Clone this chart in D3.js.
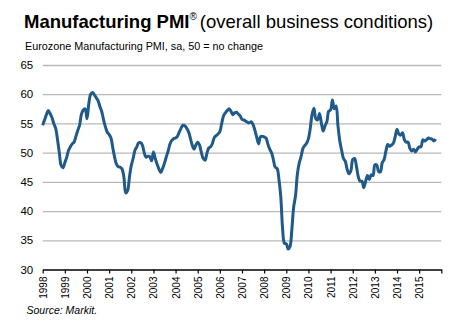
<!DOCTYPE html>
<html>
<head>
<meta charset="utf-8">
<script src="https://cdn.jsdelivr.net/npm/d3@7"></script>
<style>
  body { margin: 0; background: #fff; }
  svg { display: block; font-family: "Liberation Sans", Arial, sans-serif; }
</style>
</head>
<body>
<svg id="chart" width="464" height="324"></svg>
<script>
// Eurozone manufacturing PMI, monthly, Jan 1998 .. Oct 2015
var startYear = 1998;
var pmi1998 = [54.7, 55.6, 56.5, 57.2, 56.7, 56.0, 55.0, 54.2, 52.3, 50.0, 47.8, 47.4];
var pmi1999 = [48.3, 49.2, 50.4, 51.0, 51.5, 51.8, 52.8, 53.8, 54.7, 56.6, 57.3, 57.5];
var pmi2000 = [55.8, 58.4, 60.0, 60.3, 59.9, 59.4, 58.9, 57.9, 57.0, 55.6, 54.4, 53.5];
var pmi2001 = [53.1, 52.5, 50.8, 49.2, 48.0, 47.6, 47.5, 47.2, 45.8, 43.1, 43.5, 45.8];
var pmi2002 = [47.8, 49.0, 50.4, 51.0, 51.7, 51.7, 51.3, 50.0, 49.2, 49.4, 49.3, 48.6];
var pmi2003 = [50.1, 49.0, 48.0, 47.2, 46.6, 47.3, 48.2, 49.3, 50.3, 51.5, 52.1, 52.4];
var pmi2004 = [52.5, 52.8, 53.5, 54.2, 54.7, 54.6, 54.2, 53.6, 52.5, 51.3, 50.6, 51.3];
var pmi2005 = [51.8, 51.3, 50.0, 49.0, 48.7, 49.9, 50.8, 51.0, 51.6, 52.6, 52.9, 53.2];
var pmi2006 = [53.6, 55.0, 56.3, 56.8, 57.2, 57.5, 57.1, 56.5, 56.8, 56.9, 56.6, 56.3];
var pmi2007 = [55.7, 55.6, 55.4, 55.2, 55.1, 55.3, 54.8, 53.8, 52.6, 51.5, 52.7, 52.8];
var pmi2008 = [52.7, 52.5, 51.5, 50.6, 50.0, 48.8, 47.5, 47.3, 45.5, 42.5, 37.0, 34.5];
var pmi2009 = [34.4, 33.5, 33.9, 36.8, 40.7, 42.6, 46.3, 48.2, 49.3, 50.7, 51.2, 51.6];
var pmi2010 = [52.4, 54.2, 56.6, 57.6, 55.8, 55.6, 56.7, 55.1, 53.7, 54.6, 55.3, 57.1];
var pmi2011 = [57.3, 59.0, 57.5, 58.0, 54.6, 52.0, 50.4, 49.0, 48.5, 47.1, 46.4, 46.9];
var pmi2012 = [48.8, 49.0, 47.7, 45.9, 45.1, 45.1, 44.0, 45.1, 46.1, 45.4, 46.2, 46.1];
var pmi2013 = [47.9, 47.9, 46.8, 46.7, 48.3, 48.8, 50.3, 51.4, 51.1, 51.3, 51.6, 52.7];
var pmi2014 = [54.0, 53.2, 53.0, 53.4, 52.2, 51.8, 51.8, 50.7, 50.3, 50.6, 50.1, 50.6];
var pmi2015 = [51.0, 51.0, 52.2, 52.0, 52.2, 52.5, 52.4, 52.3, 52.0, 52.3];

var yTicks = [30, 35, 40, 45, 50, 55, 60, 65];
var yearTicks = d3.range(1998, 2017);

var pmi = [].concat(pmi1998, pmi1999, pmi2000, pmi2001, pmi2002, pmi2003,
  pmi2004, pmi2005, pmi2006, pmi2007, pmi2008, pmi2009, pmi2010, pmi2011,
  pmi2012, pmi2013, pmi2014, pmi2015);

var data = pmi.map(function(v, i) {
  return { t: startYear + i / 12, v: v };
});

var svg = d3.select("#chart");

var x = d3.scaleLinear().domain([1998, 2016]).range([42.7, 441.3]);
var y = d3.scaleLinear().domain([30, 65]).range([269.5, 65]);

// titles
var title = svg.append("text")
  .attr("x", 24)
  .attr("y", 28)
  .attr("font-size", 18.5)
  .attr("fill", "#000");
title.append("tspan").attr("font-weight", "bold").text("Manufacturing PMI");
title.append("tspan").attr("font-size", 10).attr("dy", -8).text("®");
title.append("tspan").attr("dy", 8).attr("dx", 3).text("(overall business conditions)");

svg.append("text")
  .attr("x", 25)
  .attr("y", 50)
  .attr("font-size", 10.8)
  .attr("fill", "#000")
  .text("Eurozone Manufacturing PMI, sa, 50 = no change");

// gridlines + y labels
var yAxis = svg.append("g")
  .attr("transform", "translate(" + x(1998) + ",0)")
  .call(d3.axisLeft(y).tickValues(yTicks).tickSize(-(x(2016) - x(1998))).tickPadding(9.5));
yAxis.select(".domain").remove();
yAxis.selectAll(".tick line")
  .attr("stroke", "#b8b8b8")
  .attr("stroke-width", 1.3)
  .filter(function(d) { return d === 30; }).remove();
yAxis.selectAll(".tick text")
  .attr("font-size", 11.5)
  .attr("fill", "#000")
  .attr("font-family", "Liberation Sans, Arial, sans-serif");

// x axis
var xAxis = svg.append("g")
  .attr("transform", "translate(0," + y(30) + ")")
  .call(d3.axisBottom(x).tickValues(yearTicks).tickSize(4).tickSizeOuter(0)
    .tickFormat(function(d) { return d === 2016 ? "" : String(d); }));
xAxis.select(".domain").attr("stroke", "#000").attr("stroke-width", 1.5);
xAxis.selectAll(".tick line").attr("stroke", "#000").attr("stroke-width", 1.2);
xAxis.selectAll(".tick text")
  .attr("font-size", 10)
  .attr("fill", "#000")
  .attr("font-family", "Liberation Sans, Arial, sans-serif")
  .attr("text-anchor", "end")
  .attr("transform", "translate(0,7) rotate(-90)")
  .attr("x", 0)
  .attr("y", 0)
  .attr("dy", "0.35em");

// PMI line
var line = d3.line()
  .x(function(d) { return x(d.t); })
  .y(function(d) { return y(d.v); })
  .curve(d3.curveCatmullRom.alpha(0.5));

svg.append("path")
  .datum(data)
  .attr("fill", "none")
  .attr("stroke", "#1f5a8a")
  .attr("stroke-width", 3)
  .attr("stroke-linejoin", "round")
  .attr("d", line);

svg.append("text")
  .attr("x", 26.5)
  .attr("y", 314)
  .attr("font-size", 10.5)
  .attr("font-style", "italic")
  .attr("fill", "#000")
  .text("Source: Markit.");
</script>
</body>
</html>
